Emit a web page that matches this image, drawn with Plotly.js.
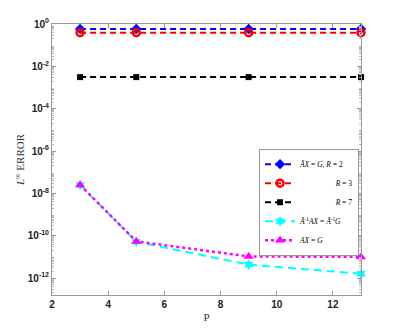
<!DOCTYPE html>
<html>
<head>
<meta charset="utf-8">
<script src="https://cdn.plot.ly/plotly-3.0.1.min.js"></script>
<style>
  html, body { margin: 0; padding: 0; background: #fff; }
  #chart { width: 399px; height: 332px; }
</style>
</head>
<body>
<div id="chart"></div>
<script>
// values
const P = [3, 5, 9, 13];
const errR2 = [0.58, 0.58, 0.58, 0.58];
const errR3 = [0.39, 0.39, 0.39, 0.39];
const errR7 = [0.0031, 0.0031, 0.0031, 0.0031];
const errPrecond = [2.5e-8, 5.2e-11, 4.3e-12, 1.6e-12];
const errPlain = [2.5e-8, 5.4e-11, 1.05e-11, 1.0e-11];

const yTickVals = [1, 1e-2, 1e-4, 1e-6, 1e-8, 1e-10, 1e-12];
const yTickText = ['10<sup>0</sup>', '10<sup>-2</sup>', '10<sup>-4</sup>', '10<sup>-6</sup>',
                   '10<sup>-8</sup>', '10<sup>-10</sup>', '10<sup>-12</sup>'];

// minor ticks for each decade
let minorVals = [];
for (let k = -13; k <= 0; k++) {
    for (let m = 2; m <= 9; m++) minorVals.push(m * Math.pow(10, k));
}

const serif = 'Liberation Serif, Times New Roman, serif';
const sans = 'Liberation Sans, Arial, sans-serif';

const traces = [
    {
        x: P, y: errR2, name: '<i>ÃX</i> = <i>G</i>, <i>R</i> = 2',
        mode: 'lines+markers', cliponaxis: false,
        line: { color: '#0000ff', width: 2, dash: '6px,4px' },
        marker: { symbol: 'diamond', size: 8, color: '#0000ff' }
    },
    {
        x: P, y: errR3, name: '                   <i>R</i> = 3',
        mode: 'lines+markers', cliponaxis: false,
        line: { color: '#ff0000', width: 2, dash: '6px,4px' },
        marker: { symbol: 'circle-open', size: 7, color: '#ff0000', line: { width: 2.5 } }
    },
    {
        x: P, y: errR7, name: '                   <i>R</i> = 7',
        mode: 'lines+markers', cliponaxis: false,
        line: { color: '#000000', width: 2, dash: '6px,4px' },
        marker: { symbol: 'square', size: 6, color: '#000000' }
    },
    {
        x: P, y: errPrecond, name: '<i>Ã</i><sup>-1</sup><i>AX</i> = <i>Ã</i><sup>-1</sup><i>G</i>',
        mode: 'lines+markers', cliponaxis: false,
        line: { color: '#00ffff', width: 2, dash: '8px,5px' },
        marker: { symbol: 'hexagram', size: 8, color: '#00ffff' }
    },
    {
        x: P, y: errPlain, name: '<i>AX</i> = <i>G</i>',
        mode: 'lines+markers', cliponaxis: false,
        line: { color: '#ff00ff', width: 2.5, dash: 'dot' },
        marker: { symbol: 'triangle-up', size: 9, color: '#ff00ff' }
    }
];

const layout = {
    width: 399,
    height: 332,
    margin: { l: 52, r: 38, t: 24, b: 37 },
    paper_bgcolor: '#ffffff',
    plot_bgcolor: '#ffffff',
    showlegend: true,
    legend: {
        x: 0.67, y: 0.54, xanchor: 'left', yanchor: 'top',
        bgcolor: '#ffffff', bordercolor: '#999999', borderwidth: 1,
        font: { family: serif, size: 7.5, color: '#000' },
        tracegroupgap: 0, itemwidth: 30
    },
    xaxis: {
        range: [2, 13],
        tickmode: 'array',
        tickvals: [2, 4, 6, 8, 10, 12],
        ticks: 'inside', ticklen: 4, tickcolor: '#999',
        showgrid: false, zeroline: false,
        showline: true, linecolor: '#999', linewidth: 1, mirror: 'ticks',
        tickfont: { family: sans, size: 10, color: '#222', weight: 'bold' },
        title: { text: 'P', font: { family: serif, size: 11, color: '#333' }, standoff: 4 }
    },
    yaxis: {
        type: 'log',
        range: [-12.8, 0],
        tickmode: 'array',
        tickvals: yTickVals,
        ticktext: yTickText,
        ticks: 'inside', ticklen: 4, tickcolor: '#999',
        minor: { tickmode: 'array', tickvals: minorVals, ticks: 'inside', ticklen: 2, tickcolor: '#bbb' },
        showgrid: false, zeroline: false,
        showline: true, linecolor: '#999', linewidth: 1, mirror: 'ticks',
        tickfont: { family: sans, size: 10, color: '#222', weight: 'bold' },
        title: { text: '<i>L</i><sup>∞</sup> ERROR', font: { family: serif, size: 11, color: '#333' }, standoff: 0 }
    }
};

Plotly.newPlot('chart', traces, layout, { displayModeBar: false, staticPlot: true });
</script>
</body>
</html>
